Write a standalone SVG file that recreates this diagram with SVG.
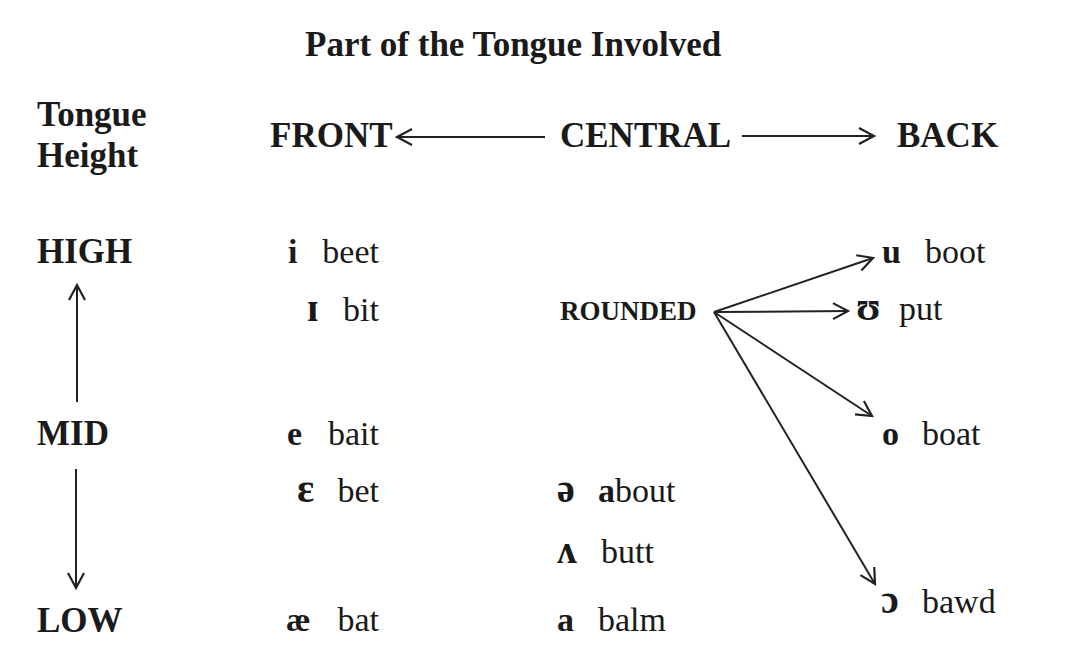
<svg xmlns="http://www.w3.org/2000/svg" width="1069" height="660" viewBox="0 0 1069 660">
<defs>
<marker id="ah" markerUnits="userSpaceOnUse" markerWidth="20" markerHeight="20" refX="16" refY="9" orient="auto" viewBox="0 0 20 18">
<path d="M1,1 L16,9 L1,17" fill="none" stroke="#222" stroke-width="2.2"/>
</marker>
<style>
text{font-family:"Liberation Serif","DejaVu Serif",serif;fill:#1a1a1a}
.h{font-weight:bold;font-size:35px}
.w{font-size:34px}
.s{font-weight:bold;font-size:34px}
.x{font-weight:bold;font-size:40px}
.r{font-weight:bold;font-size:27px}
.e{text-anchor:end}
.c{stroke:#222;stroke-width:2;fill:none;marker-end:url(#ah)}
</style>
</defs>
<rect width="1069" height="660" fill="#fff"/>
<g id="title"><text class="h" x="305" y="56">Part of the Tongue Involved</text></g>
<g id="tongue-height"><text class="h" x="37" y="126">Tongue</text><text class="h" x="37" y="167">Height</text></g>
<g id="front"><text class="h" x="270" y="147">FRONT</text></g>
<g id="central"><text class="h" x="560" y="147">CENTRAL</text></g>
<g id="back"><text class="h" x="897" y="147">BACK</text></g>
<g id="high"><text class="h" x="37" y="263">HIGH</text></g>
<g id="mid"><text class="h" x="37" y="445">MID</text></g>
<g id="low"><text class="h" x="37" y="632">LOW</text></g>
<g id="rounded"><text class="r" x="560" y="320">ROUNDED</text></g>
<g id="v-i"><text class="s" x="288" y="263">i</text><text class="w e" x="379" y="263">beet</text></g>
<g id="v-I"><text class="x" x="307" y="321">ɪ</text><text class="w e" x="379" y="321">bit</text></g>
<g id="v-e"><text class="s" x="287" y="445">e</text><text class="w e" x="379" y="445">bait</text></g>
<g id="v-eps"><text class="x" x="297" y="502">ɛ</text><text class="w e" x="379" y="502">bet</text></g>
<g id="v-ae"><text class="s" x="286" y="631">æ</text><text class="w e" x="379" y="631">bat</text></g>
<g id="v-schwa"><text class="x" x="557" y="502">ə</text><text class="w" x="598" y="502"><tspan font-weight="bold">a</tspan>bout</text></g>
<g id="v-wedge"><text class="x" x="557" y="563">ʌ</text><text class="w" x="601" y="563">butt</text></g>
<g id="v-a"><text class="s" x="557" y="631">a</text><text class="w" x="598" y="631">balm</text></g>
<g id="v-u"><text class="s" x="882" y="263">u</text><text class="w" x="925" y="263">boot</text></g>
<g id="v-U"><text class="x" x="856" y="320">ʊ</text><text class="w" x="899" y="320">put</text></g>
<g id="v-o"><text class="s" x="882" y="445">o</text><text class="w" x="922" y="445">boat</text></g>
<g id="v-open-o"><text class="x" x="881" y="613">ɔ</text><text class="w" x="922" y="613">bawd</text></g>
<g id="connectors">
<line class="c" x1="545" y1="137" x2="397" y2="137"/>
<line class="c" x1="742" y1="136" x2="874" y2="136"/>
<line class="c" x1="77" y1="402" x2="77" y2="285"/>
<line class="c" x1="76" y1="469" x2="76" y2="588"/>
<line class="c" x1="714" y1="312" x2="873" y2="258"/>
<line class="c" x1="714" y1="312" x2="848" y2="311"/>
<line class="c" x1="714" y1="312" x2="872" y2="416"/>
<line class="c" x1="714" y1="312" x2="875" y2="584"/>
</g>
</svg>
